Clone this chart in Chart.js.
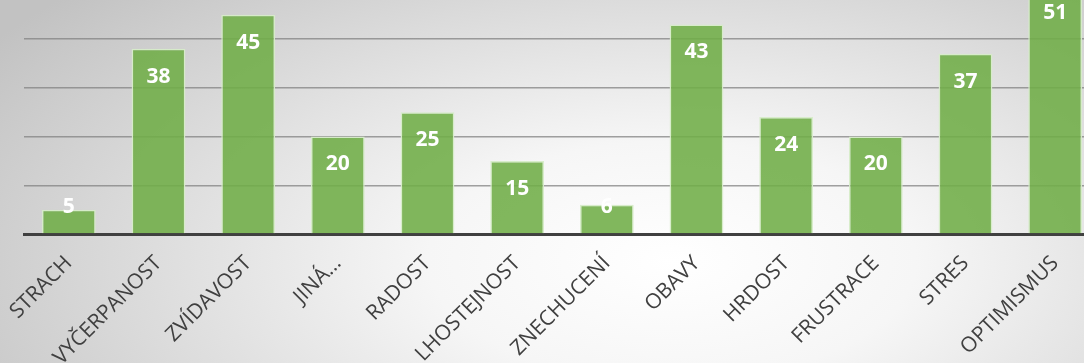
<!DOCTYPE html>
<html lang="cs">
<head>
  <meta charset="UTF-8">
  <title>Emoce</title>
  <style>
    html, body {
      margin: 0;
      padding: 0;
      overflow: hidden;
      width: 1084px;
      height: 363px;
    }
    body {
      background: radial-gradient(ellipse 75% 110% at 62% 72%, #ffffff 0%, #f6f6f6 30%, #dcdcdc 65%, #c2c2c2 100%);
    }
    .chart-wrapper {
      position: absolute;
      left: 0;
      top: 0;
      width: 1100px;
      height: 363px;
    }
  </style>
</head>
<body>
  <div class="chart-wrapper">
    <canvas id="emotions-chart"></canvas>
  </div>

  <script src="https://cdn.jsdelivr.net/npm/chart.js@4/dist/chart.umd.min.js"></script>
  <script>
    const LABELS = [
      'STRACH',
      'VYČERPANOST',
      'ZVÍDAVOST',
      'JINÁ…',
      'RADOST',
      'LHOSTEJNOST',
      'ZNECHUCENÍ',
      'OBAVY',
      'HRDOST',
      'FRUSTRACE',
      'STRES',
      'OPTIMISMUS'
    ];
    const VALUES = [5, 38, 45, 20, 25, 15, 6, 43, 24, 20, 37, 51];
    const GRID_STEP = 10;

    // white value labels near the top of each bar
    const valueLabels = {
      id: 'valueLabels',
      afterDatasetsDraw(chart) {
        const ctx = chart.ctx;
        const meta = chart.getDatasetMeta(0);
        ctx.save();
        ctx.fillStyle = '#ffffff';
        ctx.font = 'bold 21px "Open Sans"';
        ctx.textAlign = 'center';
        ctx.textBaseline = 'middle';
        meta.data.forEach((bar, i) => {
          const y = Math.min(bar.y + 28, bar.base - 26);
          ctx.fillText(String(VALUES[i]), bar.x, y);
        });
        ctx.restore();
      }
    };

    const ctx = document.getElementById('emotions-chart');
    new Chart(ctx, {
      type: 'bar',
      data: {
        labels: LABELS,
        datasets: [{
          data: VALUES,
          backgroundColor: 'rgba(112, 173, 71, 0.88)',
          borderColor: 'rgba(214, 236, 200, 0.95)',
          borderWidth: 1.5,
          categoryPercentage: 1,
          barPercentage: 0.6
        }]
      },
      plugins: [valueLabels],
      options: {
        responsive: true,
        maintainAspectRatio: false,
        animation: false,
        layout: {
          padding: { left: 24, right: 0, top: 0, bottom: 0 }
        },
        plugins: {
          legend: { display: false },
          tooltip: { enabled: false }
        },
        scales: {
          x: {
            grid: { display: false },
            border: { color: '#404040', width: 3 },
            ticks: {
              autoSkip: false,
              minRotation: 45,
              maxRotation: 45,
              color: '#404040',
              padding: 9,
              font: { family: '"Open Sans"', size: 21 }
            },
            afterFit(scale) {
              scale.height = 129;
            }
          },
          y: {
            min: 0,
            max: 48,
            ticks: { display: false, stepSize: GRID_STEP },
            border: { display: false },
            grid: {
              drawTicks: false,
              lineWidth: 1.5,
              color: (c) => (c.tick && c.tick.value > 0 && c.tick.value % GRID_STEP === 0)
                ? 'rgba(130, 130, 130, 0.75)' : 'rgba(0, 0, 0, 0)'
            },
            afterFit(scale) {
              scale.width = 0;
            }
          }
        }
      }
    });
  </script>
</body>
</html>
